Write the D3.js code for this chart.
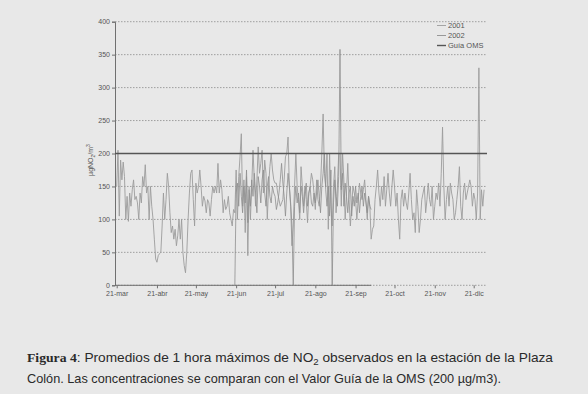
<!DOCTYPE html>
<html>
<head>
<meta charset="utf-8">
<script src="https://cdn.jsdelivr.net/npm/d3@7"></script>
<style>
  body { margin: 0; background: #e8e8e8; }
  svg { display: block; }
</style>
</head>
<body>
<div id="chart"></div>
<script>
// daily max 1h NO2, starting 21-mar
var start2001 = '2001-03-21';
var no2_2001 = [
  150,205,105,190,160,187,165,100,135,97,
  140,120,145,160,130,135,125,100,140,125,
  165,150,183,140,150,100,150,120,100,70,
  40,35,45,48,50,90,140,100,130,170,
  150,110,80,90,70,85,60,75,100,70,
  100,50,30,19,50,100,140,170,175,130,
  90,155,140,150,175,150,120,135,128,110,
  130,125,105,130,150,140,150,140,185,140,
  160,145,110,130,115,120,135,110,100,90,
  115,110,175,100,165,195,230,120,160,80,
  165,45,150,100,150,205,160,120,160,210,
  170,185,205,140,190,170,100,150,180,200,
  175,160,155,155,140,130,120,125,130,160,
  195,200,225,150,120,60,90,150,200,150,
  130,100,180,150,120,150,130,95,140,150,
  170,160,140,115,160,130,120,150,200,260,
  170,150,200,85,200,120,90,150,180,110,
  150,200,200,120,200,160,100,140,185,130,
  90,120,150,140,130,100,130,155,140,130,
  145,160,130,100,135,120,70,85,90,130,
  150,175,140,120,150,130,165,120,145,170,
  140,120,150,175,150,120,140,100,70,130,
  145,120,140,125,115,140,170,130,100,110,
  80,145,120,80,100,130,140,150,110,130,
  155,130,120,150,100,120,140,130,155,120,
  170,240,150,100,130,150,120,155,140,130,
  100,110,130,150,180,120,100,140,155,130,
  140,150,160,150,120,140,130,100,140,330,
  100,145,120,145
];

// 2002 series only has values from 20-jun
var start2002 = '2001-06-20';
var no2_2002 = [
  0,
  140,155,120,170,135,110,150,125,175,95,
  145,120,160,135,170,140,110,165,150,125,
  160,175,140,120,150,165,135,125,150,140,
  135,115,125,140,160,185,155,135,105,140,
  170,150,125,90,0,120,150,125,140,110,
  150,135,110,140,155,120,140,150,125,120,
  140,125,140,160,135,110,150,170,200,145,
  120,150,105,175,0,125,160,135,120,165,
  358,145,170,120,155,135,110,140,150,105,
  135,120,150,125,140,110,135,150,120,140,
  125,110,135,120,115
];

var guiaOMS = 200;
var yTicks = [0, 50, 100, 150, 200, 250, 300, 350, 400];
var xTickLabels = ['21-mar','21-abr','21-may','21-jun','21-jul','21-ago','21-sep','21-oct','21-nov','21-dic'];
var legendLabels = ['2001', '2002', 'Guía OMS'];

var captionLine1 = 'Promedios de 1 hora máximos de NO';
var captionLine1b = ' observados en la estación de la Plaza';
var captionLine2 = 'Colón. Las concentraciones se comparan con el Valor Guía de la OMS (200 µg/m3).';

/*-------------------------------------------------------*/
function main(){
    var W = 588, H = 394;
    var parse = d3.timeParse('%Y-%m-%d');
    var s1 = parse(start2001), s2 = parse(start2002);

    var data1 = no2_2001.map((v, i) => ({ date: d3.timeDay.offset(s1, i), v: v }));
    var data2 = no2_2002.map((v, i) => ({ date: d3.timeDay.offset(s2, i), v: v }));
    var tickDates = xTickLabels.map((d, i) => d3.timeMonth.offset(s1, i));

    var x = d3.scaleTime()
              .domain([s1, tickDates[tickDates.length - 1]])
              .range([116.7, 473.7]);
    var y = d3.scaleLinear()
              .domain([0, 400])
              .range([285.3, 21.7]);
    var left = 115, right = 487;

    var svg = d3.select('#chart').append('svg')
                .attr('width', W)
                .attr('height', H);

    svg.append('rect').attr('width', W).attr('height', H).attr('fill', '#e8e8e8');

    // dotted gridlines
    svg.append('g')
       .selectAll('line')
       .data(yTicks)
       .enter().append('line')
         .attr('x1', left).attr('x2', right)
         .attr('y1', d => y(d)).attr('y2', d => y(d))
         .attr('stroke', '#8c8c8c')
         .attr('stroke-width', 0.8)
         .attr('stroke-dasharray', '1.5,1.5');

    // y axis
    var yAxis = svg.append('g')
       .attr('transform', 'translate(' + left + ',0)')
       .call(d3.axisLeft(y).tickValues(yTicks).tickSize(3).tickPadding(2));
    yAxis.select('.domain').attr('stroke', '#707070');
    yAxis.selectAll('.tick line').attr('stroke', '#707070');
    yAxis.selectAll('text')
         .attr('font-family', 'Liberation Sans, Arial, sans-serif')
         .attr('font-size', 7)
         .attr('fill', '#555');

    // x axis
    var xAxis = svg.append('g')
       .attr('transform', 'translate(0,' + y(0) + ')')
       .call(d3.axisBottom(x).tickValues(tickDates)
               .tickFormat((d, i) => xTickLabels[i]).tickSize(3).tickPadding(3));
    xAxis.select('.domain').remove();
    xAxis.selectAll('.tick line').attr('stroke', '#707070');
    xAxis.selectAll('text')
         .attr('font-family', 'Liberation Sans, Arial, sans-serif')
         .attr('font-size', 7)
         .attr('fill', '#555');
    // solid base line while the 2002 series sits on zero
    svg.append('line')
       .attr('x1', left).attr('x2', x(data2[data2.length - 1].date))
       .attr('y1', y(0)).attr('y2', y(0))
       .attr('stroke', '#707070').attr('stroke-width', 1);

    var line = d3.line().x(d => x(d.date)).y(d => y(d.v));

    svg.append('path')
       .datum(data1)
       .attr('d', line)
       .attr('fill', 'none')
       .attr('stroke', '#9c9c9c')
       .attr('stroke-width', 0.9);

    svg.append('path')
       .datum(data2)
       .attr('d', line)
       .attr('fill', 'none')
       .attr('stroke', '#8e8e8e')
       .attr('stroke-width', 0.8);

    // WHO guide value
    svg.append('line')
       .attr('x1', left).attr('x2', right)
       .attr('y1', y(guiaOMS)).attr('y2', y(guiaOMS))
       .attr('stroke', '#555')
       .attr('stroke-width', 1.4);

    // y label
    var yl = svg.append('text')
       .attr('transform', 'translate(93,160) rotate(-90)')
       .attr('text-anchor', 'middle')
       .attr('font-family', 'Liberation Sans, Arial, sans-serif')
       .attr('font-size', 7)
       .attr('fill', '#555');
    yl.append('tspan').text('µgNO');
    yl.append('tspan').attr('font-size', 5).attr('dy', 1.5).text('2');
    yl.append('tspan').attr('dy', -1.5).text('/m');
    yl.append('tspan').attr('font-size', 5).attr('dy', -3).text('3');

    // legend
    var legColors = ['#9c9c9c', '#8e8e8e', '#555'];
    var legWidths = [0.9, 0.9, 1.4];
    var leg = svg.append('g')
       .selectAll('g')
       .data(legendLabels)
       .enter().append('g')
         .attr('transform', (d, i) => 'translate(437,' + (25.5 + i * 10) + ')');
    leg.append('line')
       .attr('x1', 0).attr('x2', 9)
       .attr('stroke', (d, i) => legColors[i])
       .attr('stroke-width', (d, i) => legWidths[i]);
    leg.append('text')
       .attr('x', 11).attr('dy', '0.35em')
       .attr('font-family', 'Liberation Sans, Arial, sans-serif')
       .attr('font-size', 7.5)
       .attr('fill', '#555')
       .text(d => d);

    // caption
    var c1 = svg.append('text')
       .attr('x', 27).attr('y', 362)
       .attr('font-family', 'Liberation Sans, Arial, sans-serif')
       .attr('font-size', 13.5)
       .attr('fill', '#2a2a2a')
       .attr('textLength', 526)
       .attr('lengthAdjust', 'spacingAndGlyphs');
    c1.append('tspan').attr('font-family', 'Liberation Serif, serif').attr('font-weight', 'bold').text('Figura 4');
    c1.append('tspan').text(': ' + captionLine1);
    c1.append('tspan').attr('font-size', 9.5).attr('dy', 2.5).text('2');
    c1.append('tspan').attr('dy', -2.5).text(captionLine1b);

    svg.append('text')
       .attr('x', 27).attr('y', 383)
       .attr('font-family', 'Liberation Sans, Arial, sans-serif')
       .attr('font-size', 13.5)
       .attr('fill', '#2a2a2a')
       .attr('textLength', 474)
       .attr('lengthAdjust', 'spacingAndGlyphs')
       .text(captionLine2);
}

main();
</script>
</body>
</html>
